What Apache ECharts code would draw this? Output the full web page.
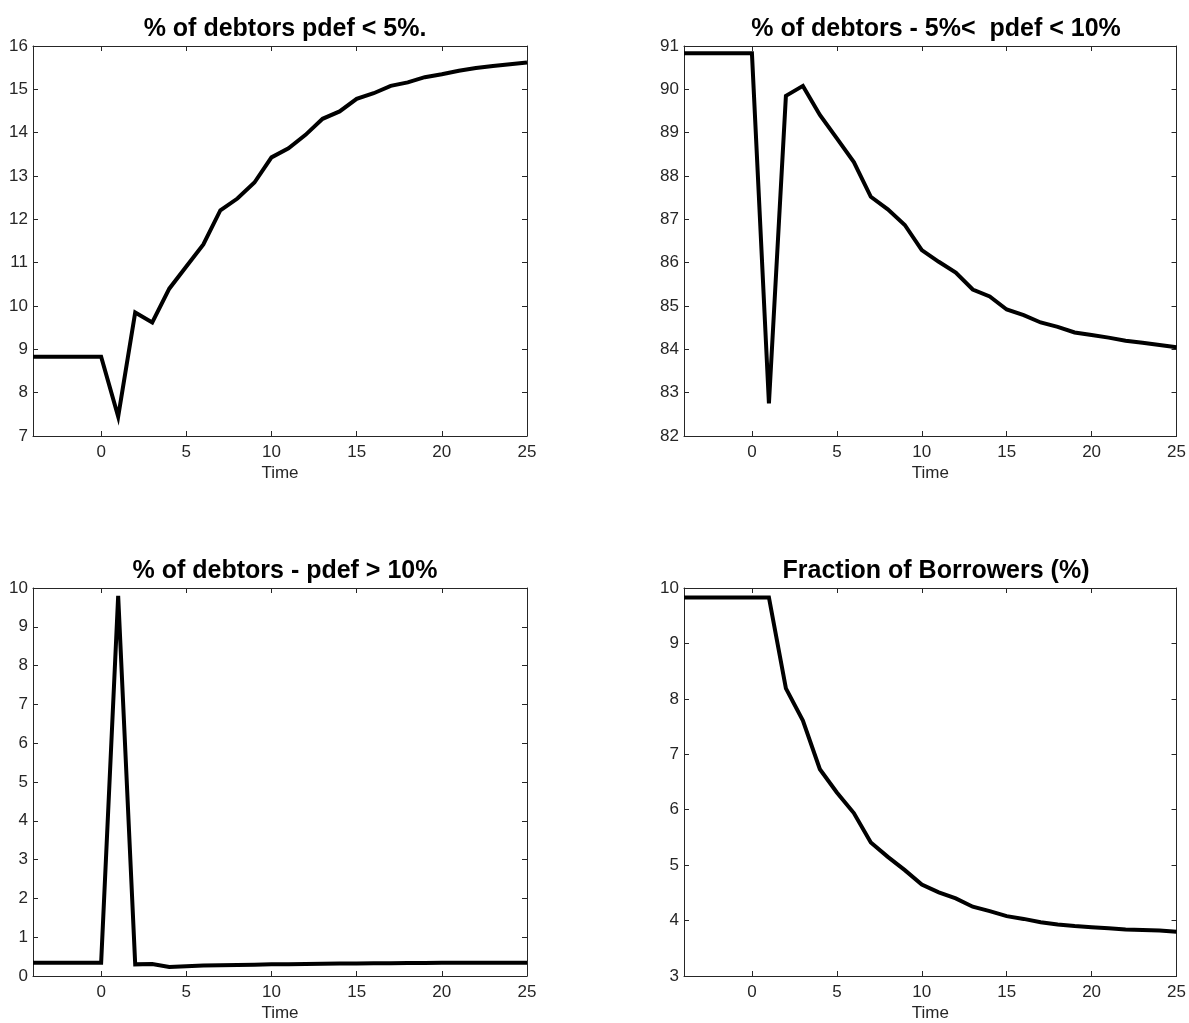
<!DOCTYPE html>
<html>
<head>
<meta charset="utf-8">
<title>Debtors</title>
<script src="https://cdn.jsdelivr.net/npm/echarts@6/dist/echarts.min.js"></script>
<style>
  html, body { margin: 0; padding: 0; background: #fff; }
  #chart { width: 1189px; height: 1023px; }
</style>
</head>
<body>
<div id="chart"></div>
<script>
// periods shown on the x axis
const time = [-4, -3, -2, -1, 0, 1, 2, 3, 4, 5, 6, 7, 8, 9, 10, 11, 12, 13, 14,
  15, 16, 17, 18, 19, 20, 21, 22, 23, 24, 25];
const timeTicks = [0, 5, 10, 15, 20, 25];

const titles = [
  "% of debtors pdef < 5%.",
  "% of debtors - 5%<  pdef < 10%",
  "% of debtors - pdef > 10%",
  "Fraction of Borrowers (%)",
];

const pdefLow = [8.83, 8.83, 8.83, 8.83, 8.83, 7.45, 9.85, 9.62, 10.4, 10.91,
  11.42, 12.21, 12.48, 12.85, 13.43, 13.64, 13.95, 14.32, 14.49, 14.78, 14.91,
  15.08, 15.16, 15.28, 15.35, 15.43, 15.49, 15.54, 15.58, 15.62];

const pdefMid = [90.83, 90.83, 90.83, 90.83, 90.83, 82.75, 89.85, 90.08, 89.41,
  88.87, 88.32, 87.52, 87.23, 86.87, 86.29, 86.02, 85.77, 85.38, 85.22, 84.92,
  84.79, 84.62, 84.52, 84.39, 84.33, 84.27, 84.2, 84.15, 84.1, 84.05];

const pdefHigh = [0.34, 0.34, 0.34, 0.34, 0.34, 9.8, 0.3, 0.31, 0.23, 0.25,
  0.27, 0.28, 0.285, 0.29, 0.3, 0.305, 0.31, 0.315, 0.32, 0.325, 0.33, 0.33,
  0.335, 0.335, 0.34, 0.34, 0.34, 0.34, 0.34, 0.34];

const borrowers = [9.83, 9.83, 9.83, 9.83, 9.83, 9.83, 8.19, 7.61, 6.73, 6.31,
  5.94, 5.41, 5.15, 4.91, 4.65, 4.51, 4.4, 4.25, 4.17, 4.08, 4.03, 3.97, 3.93,
  3.9, 3.88, 3.86, 3.84, 3.83, 3.82, 3.8];

const yMin = [7, 82, 0, 3];
const yMax = [16, 91, 10, 10];

const panels = [pdefLow, pdefMid, pdefHigh, borrowers];

const chart = echarts.init(document.getElementById("chart"), null, { renderer: "canvas" });

const font = "'Liberation Sans', Arial, Helvetica, sans-serif";
const ink = "#262626";
const spots = [
  { left: 33, top: 46 },
  { left: 684, top: 46 },
  { left: 33, top: 588 },
  { left: 684, top: 588 },
];
const plotW = 494;
const plotH = 390;

const grid = [];
const xAxis = [];
const yAxis = [];
const title = [];
const series = [];

const axisLine = { show: true, onZero: false, lineStyle: { color: ink, width: 1 } };

panels.forEach((values, i) => {
  const spot = spots[i];
  grid.push({ left: spot.left, top: spot.top, width: plotW, height: plotH, containLabel: false });

  title.push({
    text: titles[i],
    left: spot.left + plotW / 2,
    top: spot.top - 34,
    textAlign: "center",
    textStyle: { fontFamily: font, fontSize: 25, fontWeight: "bold", color: "#000" },
  });

  // bottom axis with labels
  xAxis.push({
    type: "value",
    gridIndex: i,
    min: -4,
    max: 25,
    position: "bottom",
    name: "Time",
    nameLocation: "middle",
    nameGap: 29,
    nameTextStyle: { fontFamily: font, fontSize: 17, color: ink },
    axisLine: axisLine,
    axisTick: { show: true, inside: true, length: 5, customValues: timeTicks, lineStyle: { color: ink } },
    axisLabel: { show: true, customValues: timeTicks, margin: 8, fontFamily: font, fontSize: 17, color: ink },
    splitLine: { show: false },
  });
  // top axis, ticks only
  xAxis.push({
    type: "value",
    gridIndex: i,
    min: -4,
    max: 25,
    position: "top",
    axisLine: axisLine,
    axisTick: { show: true, inside: true, length: 5, customValues: timeTicks, lineStyle: { color: ink } },
    axisLabel: { show: false },
    splitLine: { show: false },
  });

  yAxis.push({
    type: "value",
    gridIndex: i,
    min: yMin[i],
    max: yMax[i],
    interval: 1,
    position: "left",
    axisLine: axisLine,
    axisTick: { show: true, inside: true, length: 5, lineStyle: { color: ink } },
    axisLabel: { show: true, margin: 5, fontFamily: font, fontSize: 17, color: ink },
    splitLine: { show: false },
  });
  yAxis.push({
    type: "value",
    gridIndex: i,
    min: yMin[i],
    max: yMax[i],
    interval: 1,
    position: "right",
    axisLine: axisLine,
    axisTick: { show: true, inside: true, length: 5, lineStyle: { color: ink } },
    axisLabel: { show: false },
    splitLine: { show: false },
  });

  series.push({
    type: "line",
    xAxisIndex: 2 * i,
    yAxisIndex: 2 * i,
    data: time.map((t, k) => [t, values[k]]),
    showSymbol: false,
    symbol: "none",
    clip: true,
    lineStyle: { color: "#000", width: 4, join: "miter" },
  });
});

const option = {
  animation: false,
  backgroundColor: "#fff",
  title,
  grid,
  xAxis,
  yAxis,
  series,
};

chart.setOption(option);
window.addEventListener("resize", chart.resize);
</script>
</body>
</html>
